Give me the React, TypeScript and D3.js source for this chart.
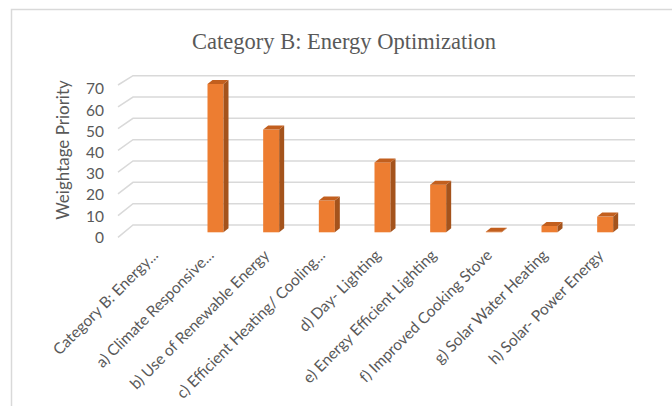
import React from "react";
import * as d3 from "d3";

const categories = [
  "Category B: Energy...",
  "a) Climate Responsive...",
  "b) Use of Renewable Energy",
  "c) Efficient Heating/ Cooling...",
  "d) Day- Lighting",
  "e) Energy Efficient Lighting",
  "f) Improved Cooking Stove",
  "g) Solar Water Heating",
  "h) Solar- Power Energy",
];
const values = [0, 70, 48.5, 15, 33, 22.5, 0.3, 3, 7.4];
const yTicks = [0, 10, 20, 30, 40, 50, 60, 70];
const chartTitle = "Category B: Energy Optimization";
const yAxisTitle = "Weightage Priority";

const W = 672;
const H = 406;

export default function App() {
  // back wall of the 3D plot
  const xWall = d3.scaleBand<string>().domain(categories).range([133, 635]);
  const yWall = d3.scaleLinear().domain([0, 70]).range([225, 75.7]);
  // front faces of the columns
  const xBar = d3.scaleBand<string>().domain(categories).range([132, 633]);
  const yBar = d3.scaleLinear().domain([0, 70]).range([232.3, 84]);
  // left-hand tick labels
  const yLabel = d3.scaleLinear().domain([0, 70]).range([236.7, 88.3]);
  // floor depth offset, a little deeper near the floor
  const depthY = d3.scaleLinear().domain([0, 70]).range([12.3, 9.3]);
  const depthX = 15;

  const barW = 16;
  const sideDx = 5;
  const sideDy = 4;

  const textColor = "#595959";
  const font = "Lato, 'Open Sans', sans-serif";

  return (
    <svg
      width={W}
      height={H}
      style={{ position: "absolute", left: 0, top: 0, background: "#fff" }}
    >
      {/* chart frame */}
      <path d={`M11.5,${H} V9.5 H${W}`} fill="none" stroke="#D9D9D9" strokeWidth={1.5} />

      <text
        x={344}
        y={49}
        textAnchor="middle"
        fontFamily="'Liberation Serif', 'Times New Roman', serif"
        fontSize={22.5}
        fill={textColor}
      >
        {chartTitle}
      </text>

      {/* gridlines on the back wall with their slanted side-wall part */}
      {yTicks.map((t) => {
        const y = yWall(t);
        const x0 = xWall.range()[0];
        const x1 = xWall.range()[1];
        return (
          <path
            key={t}
            d={`M${x0 - depthX},${y + depthY(t)} L${x0},${y} H${x1}`}
            fill="none"
            stroke="#D9D9D9"
            strokeWidth={1.5}
          />
        );
      })}

      {yTicks.map((t) => (
        <text
          key={t}
          x={104}
          y={yLabel(t)}
          textAnchor="end"
          dominantBaseline="central"
          fontFamily={font}
          fontSize={15.5}
          fill={textColor}
        >
          {t}
        </text>
      ))}

      <text
        transform={`translate(62,150) rotate(-90)`}
        textAnchor="middle"
        dominantBaseline="central"
        fontFamily={font}
        fontSize={17}
        fill={textColor}
      >
        {yAxisTitle}
      </text>

      {/* 3D columns */}
      {categories.map((c, i) => {
        const v = values[i];
        if (v <= 0) return null;
        const x = xBar(c)! + xBar.bandwidth() / 2 - barW / 2;
        const yt = yBar(v);
        const yb = yBar(0);
        const top = `M${x},${yt} L${x + barW},${yt} L${x + barW + sideDx},${yt - sideDy} L${x + sideDx},${yt - sideDy} Z`;
        const side = `M${x + barW},${yt} L${x + barW + sideDx},${yt - sideDy} L${x + barW + sideDx},${yb - sideDy} L${x + barW},${yb} Z`;
        return (
          <g key={c}>
            <rect x={x} y={yt} width={barW} height={yb - yt} fill="#ED7D31" />
            <path d={side} fill="#A4531C" />
            <path d={top} fill="#C25F1E" />
          </g>
        );
      })}

      {/* rotated category labels */}
      {categories.map((c) => {
        const cx = xBar(c)! + xBar.bandwidth() / 2 - 5;
        const cy = 252;
        return (
          <text
            key={c}
            transform={`translate(${cx},${cy}) rotate(-45)`}
            textAnchor="end"
            dominantBaseline="central"
            fontFamily={font}
            fontSize={15.5}
            fill={textColor}
          >
            {c}
          </text>
        );
      })}
    </svg>
  );
}
